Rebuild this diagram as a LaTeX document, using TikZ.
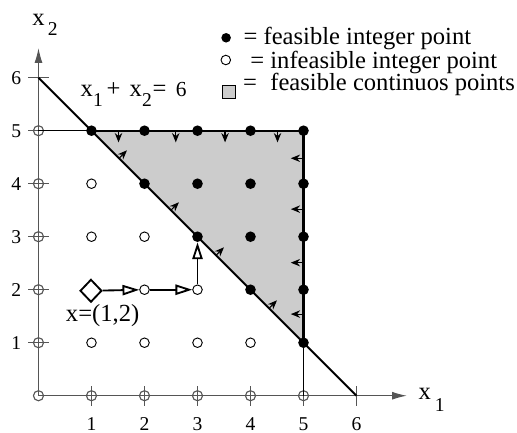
\documentclass[tikz,border=0pt]{standalone}
\usepackage{fontspec}
\setmainfont{Liberation Serif}
\newfontfamily\lserif{Liberation Serif}
\usetikzlibrary{arrows.meta,shapes.geometric}
\definecolor{regiongray}{RGB}{204,204,204}
\definecolor{axisgray}{RGB}{85,85,85}
\newcommand{\lowsub}[1]{\raisebox{-5pt}{\fontsize{10.5}{12}\selectfont #1}}
\begin{document}
\begin{tikzpicture}[
  fdot/.style={circle,fill=black,inner sep=0pt,minimum size=0.2cm},
  odot/.style={circle,draw=black,fill=white,line width=0.5pt,inner sep=0pt,minimum size=0.18cm},
  adot/.style={circle,draw=axisgray,line width=0.6pt,inner sep=0pt,minimum size=0.19cm},
  axisline/.style={draw=axisgray,line width=0.6pt},
  cline/.style={draw=black,line width=1.1pt},
  thinline/.style={draw=black,line width=0.6pt},
  dirarrow/.style={draw=black,line width=0.6pt,-{Stealth[length=5pt,width=4pt]}},
  patharrow/.style={draw=black,line width=1pt,-{Triangle[open,length=9pt,width=5.5pt,fill=white]}},
  ticklab/.style={font=\lserif\fontsize{10.5}{12}\selectfont,inner sep=0pt},
  lab/.style={font=\lserif\fontsize{13.2}{15}\selectfont,inner sep=0pt},
]
\useasboundingbox (-0.726,-0.685) rectangle (9.028,7.466);

% feasible region
\fill[regiongray] (1,5) -- (5,5) -- (5,1) -- cycle;

% axes
\draw[axisline,-{Latex[length=0.28cm,width=0.15cm]}] (0,0) -- (0,6.56);
\draw[axisline,-{Latex[length=0.28cm,width=0.15cm]}] (0,0) -- (6.95,0);
\foreach \k in {1,...,6}{
  \draw[axisline] (-0.19,\k) -- (0.19,\k);
  \draw[axisline] (\k,-0.19) -- (\k,0.19);
}
\node[adot] (a00) at (0,0) {};
\foreach \k in {1,...,5}{
  \node[adot] (ay\k) at (0,\k) {};
  \node[adot] (ax\k) at (\k,0) {};
}

% tick labels
\foreach \k in {1,...,6}{
  \node[ticklab,anchor=east] (ly\k) at (-0.32,\k) {\k};
  \node[ticklab,anchor=base] (lx\k) at (\k,-0.655) {\k};
}

% axis labels
\node[lab,anchor=base] (xtwo) at (0.0,6.99) {x};
\node[ticklab,anchor=base west] (xtwosub) at (0.17,6.79) {2};
\node[lab,anchor=base] (xone) at (7.29,-0.08) {x};
\node[ticklab,anchor=base west] (xonesub) at (7.47,-0.30) {1};

% constraints
\draw[thinline] (0,5) -- (1,5);
\draw[thinline] (5,0) -- (5,1);
\draw[cline] (1,5) -- (5,5) -- (5,1);
\draw[cline] (0,6) -- (6,0);

% direction arrows
\foreach \xx in {1.51,2.59,3.52,4.51}{
  \draw[dirarrow] (\xx,5) -- (\xx,4.78);
}
\foreach \yy in {1.54,2.51,3.52,4.48}{
  \draw[dirarrow] (5,\yy) -- (4.76,\yy);
}
\foreach \bx/\by in {1.52/4.48,2.5/3.5,3.35/2.65,4.35/1.65}{
  \draw[dirarrow] (\bx,\by) -- ++(0.15,0.15);
}

% constraint label
\node[lab,anchor=base west] (clab) at (0.79,5.64)
  {x\lowsub{1}\hspace{2pt}+\hspace{5pt}x\lowsub{2}\hspace{0.5pt}=\hspace{5pt}{\fontsize{11.5}{12}\selectfont 6}};

% integer points
\foreach \p in {15,25,35,45,55,24,34,44,54,33,43,53,42,52,51}{
  \pgfmathtruncatemacro{\px}{\p/10}
  \pgfmathtruncatemacro{\py}{mod(\p,10)}
  \node[fdot] (p\p) at (\px,\py) {};
}
\foreach \p in {14,13,23,22,32,11,21,31,41}{
  \pgfmathtruncatemacro{\px}{\p/10}
  \pgfmathtruncatemacro{\py}{mod(\p,10)}
  \node[odot] (p\p) at (\px,\py) {};
}

% start point and path
\node[diamond,draw=black,fill=white,line width=1pt,inner sep=0pt,minimum width=0.41cm,minimum height=0.43cm] (start) at (0.99,1.98) {};
\draw[patharrow] (start) -- (p22);
\draw[patharrow] (p22) -- (p32);
\draw[patharrow] (p32) -- (p33);
\node[lab,anchor=center] (slab) at (1.21,1.52) {x=(1,2)};

% legend
\node[fdot,minimum size=0.18cm] (lg1) at (3.54,6.753) {};
\node[odot,minimum size=0.18cm] (lg2) at (3.534,6.334) {};
\node[draw=black,fill=regiongray,line width=0.5pt,inner sep=0pt,minimum size=0.25cm] (lg3) at (3.60,5.73) {};
\node[lab,anchor=base west] (eq1) at (3.865,6.63) {=};
\node[lab,anchor=base west] (tx1) at (4.24,6.63) {feasible integer point};
\node[lab,anchor=base west] (eq2) at (3.99,6.18) {=};
\node[lab,anchor=base west] (tx2) at (4.368,6.18) {infeasible integer point};
\node[lab,anchor=base west] (eq3) at (3.853,5.756) {=};
\node[lab,anchor=base west] (tx3) at (4.368,5.756) {feasible continuos points};
\end{tikzpicture}
\end{document}
